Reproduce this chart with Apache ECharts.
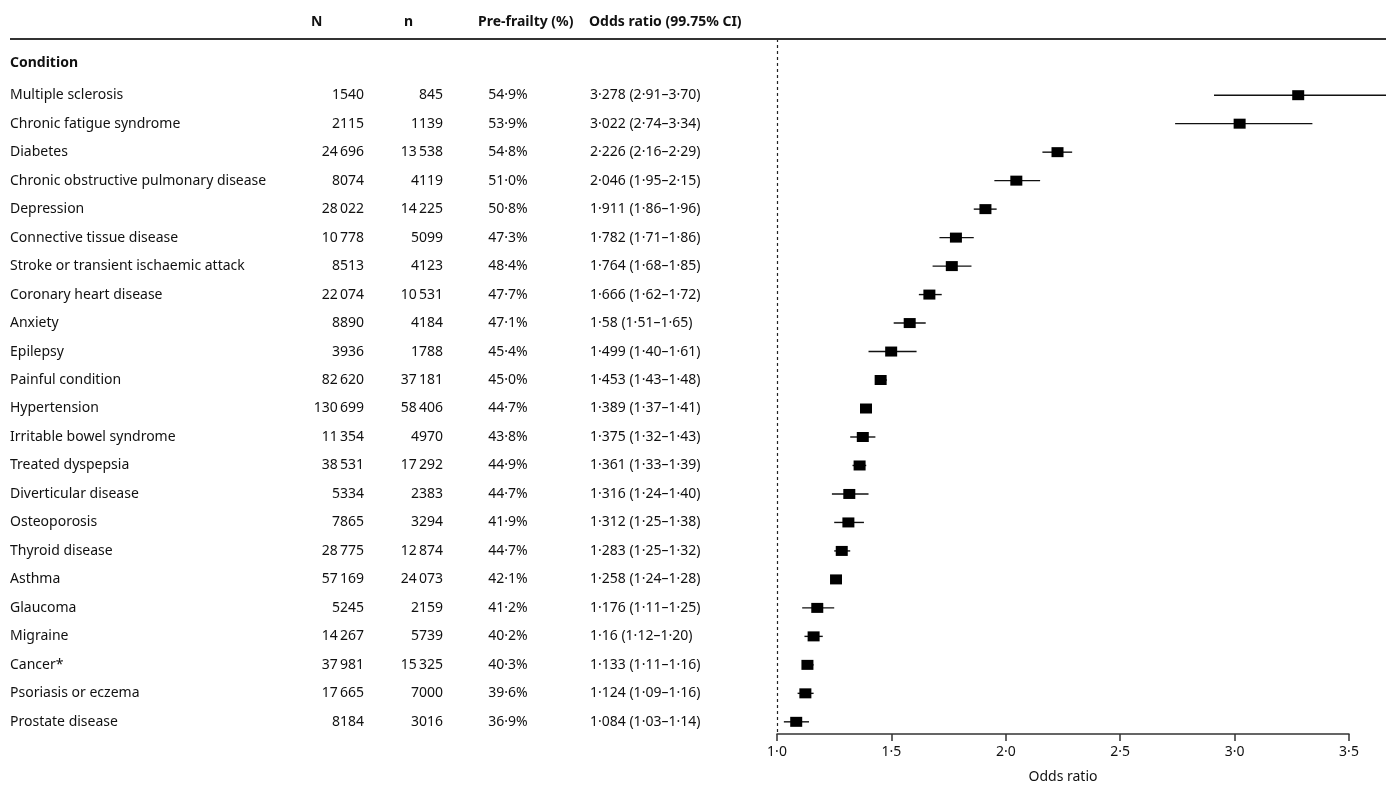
<!DOCTYPE html>
<html>
<head>
<meta charset="utf-8">
<script src="https://cdn.jsdelivr.net/npm/echarts@6/dist/echarts.min.js"></script>
<style>
html,body{margin:0;padding:0;background:#fff;}
#chart{width:1386px;height:789px;}
</style>
</head>
<body>
<div id="chart"></div>
<script>
const conditions = ['Multiple sclerosis','Chronic fatigue syndrome','Diabetes','Chronic obstructive pulmonary disease','Depression','Connective tissue disease','Stroke or transient ischaemic attack','Coronary heart disease','Anxiety','Epilepsy','Painful condition','Hypertension','Irritable bowel syndrome','Treated dyspepsia','Diverticular disease','Osteoporosis','Thyroid disease','Asthma','Glaucoma','Migraine','Cancer*','Psoriasis or eczema','Prostate disease'];
const totalN = [1540,2115,24696,8074,28022,10778,8513,22074,8890,3936,82620,130699,11354,38531,5334,7865,28775,57169,5245,14267,37981,17665,8184];
const frailN = [845,1139,13538,4119,14225,5099,4123,10531,4184,1788,37181,58406,4970,17292,2383,3294,12874,24073,2159,5739,15325,7000,3016];
const prePct = [54.9,53.9,54.8,51.0,50.8,47.3,48.4,47.7,47.1,45.4,45.0,44.7,43.8,44.9,44.7,41.9,44.7,42.1,41.2,40.2,40.3,39.6,36.9];
const oddsRatio = [3.278,3.022,2.226,2.046,1.911,1.782,1.764,1.666,1.58,1.499,1.453,1.389,1.375,1.361,1.316,1.312,1.283,1.258,1.176,1.16,1.133,1.124,1.084];
const ciLow = [2.91,2.74,2.16,1.95,1.86,1.71,1.68,1.62,1.51,1.40,1.43,1.37,1.32,1.33,1.24,1.25,1.25,1.24,1.11,1.12,1.11,1.09,1.03];
const ciHigh = [3.70,3.34,2.29,2.15,1.96,1.86,1.85,1.72,1.65,1.61,1.48,1.41,1.43,1.39,1.40,1.38,1.32,1.28,1.25,1.20,1.16,1.16,1.14];
const headers = ['N','n','Pre-frailty (%)','Odds ratio (99.75% CI)'];
const sectionTitle = 'Condition';
const axisTitle = 'Odds ratio';

const FONT = '"Noto Sans", "Open Sans", sans-serif';
const TXT = '#111';
const dot = s => String(s).replace('.', '\u00B7');
const fmtInt = v => { const s = String(v); return s.length >= 5 ? s.slice(0, -3) + '\u2009' + s.slice(-3) : s; };

const forestData = conditions.map((c, i) => [oddsRatio[i], ciLow[i], ciHigh[i], i]);
const textData = conditions.map((c, i) => [1, i]);

const chart = echarts.init(document.getElementById('chart'), null, {renderer: 'canvas'});
chart.setOption({
  animation: false,
  backgroundColor: '#fff',
  textStyle: {fontFamily: FONT},
  grid: {left: 777, right: 37, top: 39, bottom: 51},
  xAxis: {
    type: 'value', min: 1, max: 3.5, interval: 0.5,
    axisLine: {show: true, onZero: false, lineStyle: {color: '#333', width: 1.5}},
    axisTick: {show: true, length: 7, lineStyle: {color: '#333', width: 1.5}},
    splitLine: {show: false},
    axisLabel: {fontFamily: FONT, fontSize: 14, color: TXT, margin: 11, formatter: v => dot(v.toFixed(1))},
    name: axisTitle, nameLocation: 'middle', nameGap: 36,
    nameTextStyle: {fontFamily: FONT, fontSize: 14, color: TXT}
  },
  yAxis: {
    type: 'value', inverse: true, min: -1.92, max: 22.48, show: false
  },
  graphic: [
    {type: 'line', shape: {x1: 10, y1: 39, x2: 1386, y2: 39}, style: {stroke: '#333', lineWidth: 2}, z: 10},
    {type: 'text', left: 311, top: 15, style: {text: headers[0], font: 'bold 14px ' + FONT, fill: TXT}},
    {type: 'text', left: 404, top: 15, style: {text: headers[1], font: 'bold 14px ' + FONT, fill: TXT}},
    {type: 'text', left: 478, top: 15, style: {text: headers[2], font: 'bold 14px ' + FONT, fill: TXT}},
    {type: 'text', left: 589, top: 15, style: {text: headers[3], font: 'bold 14px ' + FONT, fill: TXT}},
    {type: 'text', left: 10, top: 56, style: {text: sectionTitle, font: 'bold 14px ' + FONT, fill: TXT}}
  ],
  series: [
    {
      type: 'custom',
      name: 'forest',
      clip: false,
      data: forestData,
      encode: {x: [0, 1, 2], y: 3},
      renderItem: function (params, api) {
        const i = api.value(3);
        const c = api.coord([api.value(0), i]);
        const lo = api.coord([api.value(1), i]);
        const hi = api.coord([api.value(2), i]);
        const y = c[1] + 1.5;
        return {
          type: 'group',
          children: [
            {type: 'line', shape: {x1: lo[0], y1: y, x2: hi[0], y2: y}, style: {stroke: '#111', lineWidth: 1.4}},
            {type: 'rect', shape: {x: c[0] - 6, y: y - 5, width: 12, height: 10}, style: {fill: '#000'}}
          ]
        };
      },
      markLine: {
        silent: true, symbol: 'none', animation: false,
        label: {show: false},
        lineStyle: {type: [3, 3], color: '#222', width: 1.2},
        data: [{xAxis: 1}]
      }
    },
    {
      type: 'custom',
      name: 'table',
      clip: false,
      silent: true,
      data: textData,
      encode: {x: 0, y: 1},
      renderItem: function (params, api) {
        const i = api.value(1);
        const y = api.coord([1, i])[1] + 1.5;
        const font = '14px ' + FONT;
        const mk = (x, text, align) => ({type: 'text', style: {x: x, y: y, text: text, font: font, fill: TXT, align: align, verticalAlign: 'middle'}});
        return {
          type: 'group',
          children: [
            mk(10, conditions[i], 'left'),
            mk(364, fmtInt(totalN[i]), 'right'),
            mk(443, fmtInt(frailN[i]), 'right'),
            mk(508, dot(prePct[i].toFixed(1)) + '%', 'center'),
            mk(590, dot(oddsRatio[i]) + ' (' + dot(ciLow[i].toFixed(2)) + '\u2013' + dot(ciHigh[i].toFixed(2)) + ')', 'left')
          ]
        };
      }
    }
  ]
});
</script>
</body>
</html>
